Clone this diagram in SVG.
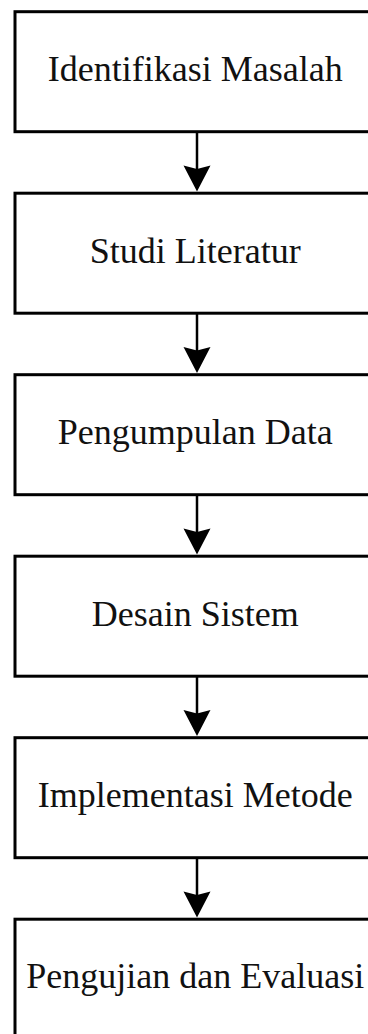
<svg xmlns="http://www.w3.org/2000/svg" width="368" height="1034" viewBox="0 0 368 1034">
<style>
.box{fill:#fff;stroke:#000;stroke-width:3}
.lbl{font-family:"Liberation Serif","Times New Roman",serif;font-size:36px;fill:#111;text-anchor:middle}
.edge{stroke:#000;stroke-width:2.5;fill:none}
.head{fill:#000;stroke:none}
</style>
<defs>
<path id="ah" class="head" d="M-13.5,0 L0,3.5 L13.5,0 L0,26 Z"/>
</defs>
<rect width="368" height="1034" fill="#fff"/>
<g id="n1"><rect class="box" x="15" y="11.7" width="380" height="120"/><text class="lbl" x="195.3" y="80.5">Identifikasi Masalah</text></g>
<g id="n2"><rect class="box" x="15" y="193.2" width="380" height="120"/><text class="lbl" x="195.3" y="262.5">Studi Literatur</text></g>
<g id="n3"><rect class="box" x="15" y="374.7" width="380" height="120"/><text class="lbl" x="195.3" y="444">Pengumpulan Data</text></g>
<g id="n4"><rect class="box" x="15" y="556.2" width="380" height="120"/><text class="lbl" x="195.3" y="625.5">Desain Sistem</text></g>
<g id="n5"><rect class="box" x="15" y="737.7" width="380" height="120"/><text class="lbl" x="195.3" y="807">Implementasi Metode</text></g>
<g id="n6"><rect class="box" x="15" y="919.2" width="380" height="120"/><text class="lbl" x="195.3" y="988.3">Pengujian dan Evaluasi</text></g>
<g id="connectors">
<line class="edge" x1="197" y1="131.7" x2="197" y2="170"/><use href="#ah" x="197" y="165.5"/>
<line class="edge" x1="197" y1="313.2" x2="197" y2="351"/><use href="#ah" x="197" y="347"/>
<line class="edge" x1="197" y1="494.7" x2="197" y2="533"/><use href="#ah" x="197" y="528.5"/>
<line class="edge" x1="197" y1="676.2" x2="197" y2="714"/><use href="#ah" x="197" y="710"/>
<line class="edge" x1="197" y1="857.7" x2="197" y2="896"/><use href="#ah" x="197" y="891.5"/>
</g>
</svg>
